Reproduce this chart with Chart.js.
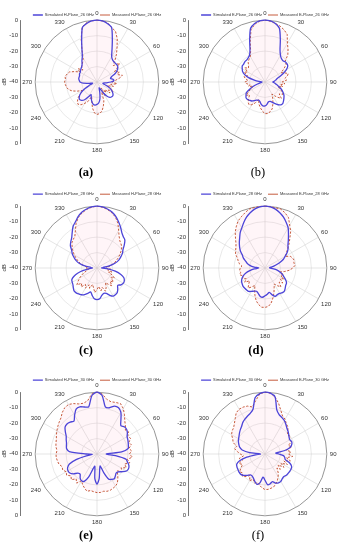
<!DOCTYPE html>
<html><head><meta charset="utf-8">
<script src="https://cdn.jsdelivr.net/npm/chart.js@4.4.1/dist/chart.umd.min.js"></script>
<style>
html,body{margin:0;padding:0;background:#fff;width:344px;height:550px;overflow:hidden;position:relative;}
canvas{position:absolute;}
.cap{position:absolute;font-family:"Liberation Serif","Times New Roman",serif;font-size:12.5px;transform:translate(-50%,-50%);color:#000;white-space:nowrap;}
</style></head><body>
<script>
// Angle categories (degrees, clockwise from top)
const angles = ['0','5','10','15','20','25','30','35','40','45','50','55',
 '60','65','70','75','80','85','90','95','100','105','110','115',
 '120','125','130','135','140','145','150','155','160','165','170','175',
 '180','185','190','195','200','205','210','215','220','225','230','235',
 '240','245','250','255','260','265','270','275','280','285','290','295',
 '300','305','310','315','320','325','330','335','340','345','350','355'];

// dB values, one per angle
const simA = [0,-0.3,-1.5,-3.5,-11,-17,-21,-22.5,-23,-23,-23,-23.5,
 -25,-27,-30,-31,-29.5,-29,-31,-34,-36,-36,-34,-31,
 -29,-27.5,-26.5,-26.5,-27,-29,-32,-35,-36,-33,-29,-26.5,
 -25.5,-25,-25.5,-27,-29,-31,-29,-26,-24.5,-24,-25,-27,
 -30,-34,-36,-37,-35,-31,-29,-28.5,-28,-28,-28,-27.5,
 -27.5,-27,-26.5,-26,-25,-23,-21,-17,-11,-3.5,-1.5,-0.3];
const measA = [0,-0.3,-1,-3.5,-5,-9,-14,-18,-22,-25,-21,-24,
 -27,-24,-26,-23,-25,-28,-30,-27,-31,-29,-33,-30,
 -28,-31,-29,-33,-31,-35,-30,-33,-27,-24,-21,-19.5,
 -19,-20,-23,-27,-30,-26,-24,-22,-21,-22,-24,-27,
 -29,-26,-23,-21,-20,-19.5,-19,-19.5,-19,-20,-21,-24,
 -27,-25,-28,-26,-25,-24,-22,-17,-10,-3,-1,-0.3];
const simB = [0,-0.3,-1.5,-4,-11,-17,-20,-21.5,-22,-21.5,-21.5,-22,
 -24,-27,-30,-32,-33,-34,-35,-34,-33,-31.5,-30,-28,
 -26.5,-25,-24,-23,-22,-22,-23,-24.5,-26,-27,-27,-25.5,
 -24.5,-24.5,-25.5,-27,-27.5,-27,-26,-25,-24.5,-24,-24,-25,
 -26,-29,-32,-35,-37,-38,-38,-36,-33,-29,-26,-24,
 -23,-22,-22,-21.5,-21.5,-21,-20,-17,-11,-4,-1.5,-0.3];
const measB = [0,-0.5,-1.5,-2.5,-4,-6,-11,-14,-17,-22,-22,-25,
 -28,-26,-24,-25,-27,-26,-29,-27,-30,-28,-31,-29,
 -27,-26,-28,-25,-27,-29,-31,-28,-25,-22,-20.5,-19.5,
 -19.5,-21,-23,-25,-28,-25,-23,-22,-23,-25,-27,-25,
 -28,-30,-32,-29,-30,-28,-27,-29,-27,-26,-28,-25,
 -27,-24,-26,-25,-23,-22,-21,-18,-12,-5,-2,-0.5];
const simC = [0,-0.3,-1.2,-2.5,-4.5,-7,-9.5,-12,-13.5,-14.5,-17,-19.5,
 -21,-23,-25,-28,-32,-36,-37,-33,-28,-24,-21.5,-20.5,
 -20.3,-21,-22.5,-21,-19.5,-19,-19,-20.5,-22.5,-23,-22,-20,
 -19.5,-20,-22,-24,-22.5,-21,-20,-19.5,-19,-19,-20,-21,
 -21.5,-22,-24,-27,-31,-35,-37,-36,-32,-28,-25.5,-23.5,
 -21.5,-20,-17.5,-16,-14.5,-12,-9,-7,-4.5,-2.5,-1.2,-0.3];
const measC = [0,-0.5,-1.5,-3,-5,-8,-12,-15,-17,-18,-19,-21,
 -23,-25,-27,-29,-31,-33,-34,-31,-33,-30,-32,-29,
 -27,-29,-26,-28,-25,-27,-29,-26,-24,-27,-25,-28,
 -26,-24,-27,-29,-26,-28,-25,-27,-24,-26,-23,-25,
 -27,-29,-31,-33,-34,-35,-33,-34,-31,-29,-27,-25,
 -23,-21,-19,-17,-16,-15,-12,-8,-5,-3,-1.5,-0.5];
const simD = [0,-0.3,-1.3,-3,-5,-7.5,-10,-13.5,-16.5,-19,-20.5,-22.5,
 -25,-27,-30,-33,-35,-37,-37,-35,-32,-30,-28,-26.5,
 -24.5,-23,-22.5,-21.5,-20.5,-20.5,-21,-21,-20.5,-22,-24,-23,
 -22,-21,-21.5,-23,-24,-23.5,-22.5,-21.5,-21.5,-21.5,-21.5,-22,
 -22.5,-23.5,-25,-27,-30,-33,-36,-33,-30,-28,-26.5,-24.5,
 -23,-20.5,-18.5,-16.5,-14.5,-12,-10,-7.5,-5,-3,-1.3,-0.3];
const measD = [0,0,-0.5,-0.5,-2,-4,-8,-11,-15,-18,-21,-23,
 -25,-22,-21,-20.5,-21,-20.5,-22,-24,-27,-30,-27,-29,
 -26,-28,-25,-27,-24,-26,-28,-26,-23,-20,-17,-15,
 -14.5,-14.5,-16,-18,-21,-24,-27,-25,-23,-25,-27,-24,
 -26,-24,-25,-23,-24,-23.5,-24,-25,-23,-22,-21,-19,
 -18,-17,-15.5,-13,-10,-7.5,-5,-3.5,-2,-0.5,-0.3,0];
const simE = [0,-2,-9,-9,-7,-7,-9,-13,-16,-15,-15,-16,
 -17.5,-18,-18.5,-19,-19.5,-24,-34,-28,-21,-19.5,-18,-17.5,
 -18,-20,-22,-22.5,-21.5,-20.5,-21,-22,-27,-32,-30,-24,
 -20.5,-24,-32,-30,-24,-20.5,-20,-21,-23,-22.5,-20,-18.5,
 -18.3,-19,-21,-26,-33,-37,-33,-22,-20,-19.5,-19,-18,
 -17,-15,-13,-12.5,-13,-14,-11,-8,-7.5,-8.5,-9,-2];
const measE = [0,-1,-4,-5,-4.5,-4,-6,-9,-12,-14,-16,-15,
 -17,-16,-18,-17,-19,-17.5,-19,-17,-20,-18,-21,-19,
 -22,-20,-23,-21,-19,-17,-16,-15.5,-15,-15,-15.5,-15,
 -15,-15.5,-16,-15,-16.5,-18,-20,-17,-19,-16.5,-18,-16,
 -17,-15.5,-16,-14.5,-14,-13.5,-13.5,-14,-13,-12.5,-12,-11,
 -10,-9,-8,-7,-5,-3.5,-3,-4,-5.5,-6,-5,-1];
const simF = [0,-0.5,-2.5,-10.5,-13,-14,-15,-16.5,-18,-19,-20,-21,
 -21.5,-21,-21.5,-23,-27,-33,-31,-28,-27,-26.5,-23,-21,
 -20.5,-20.5,-20.5,-20.5,-21,-20.5,-19.5,-19.3,-20,-21.5,-20.5,-20,
 -23,-25,-21,-19.7,-21,-22.5,-23.5,-23.5,-22,-20.5,-19.5,-19.5,
 -19.8,-20,-20.5,-23,-28,-34,-37,-30,-25,-23,-22,-21,
 -20.3,-19.5,-18.5,-17.5,-16.5,-15,-14,-13,-12,-10,-3,-0.8];
const measF = [0,-0.5,-2.5,-6,-10,-13,-14,-16,-17,-19,-21,-20,
 -22,-21,-24,-22,-26,-23,-25,-22,-26,-23,-27,-24,
 -28,-25,-29,-26,-28,-25,-23,-21,-19.5,-18,-17.5,-17,
 -17,-18,-19.5,-21,-20,-22,-20,-23,-21,-19.5,-21,-20,
 -22,-24,-22,-25,-23,-26,-24,-22,-20,-21,-18,-17,
 -15,-14,-13.5,-12,-10,-7.5,-6.5,-6.5,-7,-8.5,-5,-1];

const simNames  = ['Simulated H-Plane_26 GHz','Simulated E-Plane_26 GHz','Simulated H-Plane_28 GHz','Simulated E-Plane_28 GHz','Simulated H-Plane_30 GHz','Simulated E-Plane_30 GHz'];
const measNames = ['Measured H-Plane_26 GHz','Measured E-Plane_26 GHz','Measured H-Plane_28 GHz','Measured E-Plane_28 GHz','Measured H-Plane_30 GHz','Measured E-Plane_30 GHz'];
const captions  = ['(a)','(b)','(c)','(d)','(e)','(f)'];
const axisTicks = [-40,-30,-20,-10,0,10,20,30,40];

const simSeries  = [simA, simB, simC, simD, simE, simF];
const measSeries = [measA, measB, measC, measD, measE, measF];

// layout of the six panels
const panelX   = [0, 168, 0, 168, 0, 168];
const panelCY  = [82, 82, 268, 268, 454, 454];
const legendYs = [15, 15, 194, 194, 379, 379];
const capPos   = [[86,172],[258,172],[86,350],[256,350],[86,535],[258,535]];
const capBold  = [true, false, true, true, true, false];

const SIM = '#4c44d8', MEAS = '#c04a28';
const FONT = '"Liberation Sans", Arial, sans-serif';
const R = 61.8;

function datasets(i, withData) {
  return [
    {label: simNames[i], data: withData ? simSeries[i] : [], borderColor: SIM, backgroundColor: SIM,
     borderWidth: 1.3, pointRadius: 0, tension: 0.25, fill: false},
    {label: measNames[i], data: withData ? measSeries[i] : [], borderColor: MEAS,
     backgroundColor: 'rgba(255,120,150,0.07)', borderWidth: 0.9, borderDash: [2.2, 1.6],
     pointRadius: 0, tension: 0, fill: 'start'}
  ];
}

function addCanvas(left, top, w, h) {
  const c = document.createElement('canvas');
  c.width = w; c.height = h;
  c.style.left = left + 'px'; c.style.top = top + 'px';
  c.style.width = w + 'px'; c.style.height = h + 'px';
  document.body.appendChild(c);
  return c;
}

for (let i = 0; i < 6; i++) {
  const x0 = panelX[i], cy = panelCY[i];
  // polar chart
  const rc = addCanvas(x0 + 9, cy - 72, 176, 145);
  new Chart(rc, {
    type: 'radar',
    data: {labels: angles, datasets: datasets(i, true)},
    options: {
      responsive: false, animation: false, events: [],
      layout: {padding: 0},
      plugins: {legend: {display: false}, tooltip: {enabled: false}},
      scales: {r: {
        min: -40, max: 0,
        ticks: {display: false, stepSize: 10},
        grid: {circular: true, color: c => c.index === 4 ? '#8a8a8a' : '#dadada', lineWidth: c => c.index === 4 ? 0.9 : 0.6},
        angleLines: {display: true, color: '#d4d4d4', lineWidth: c => (c.index % 6 === 0 ? 0.6 : 0)},
        pointLabels: {display: true, padding: 3, color: '#333', font: {size: 6, family: FONT},
          callback: (l, idx) => (idx % 6 === 0 ? l : '')}
      }}
    }
  });

  // left dB axis + legend
  const axisTop = cy - R, axisBottom = cy + R;
  const legendH = Math.min(20, axisTop - (legendYs[i] - 8));
  const legendTop = axisTop - legendH;
  const cTop = Math.floor(legendTop);
  const padTop = legendTop - cTop;
  const H = Math.ceil(axisBottom + 5 - cTop);
  const padBottom = cTop + H - axisBottom;
  const ac = addCanvas(x0, cTop, 194, H);
  new Chart(ac, {
    type: 'line',
    data: {labels: [], datasets: datasets(i, false)},
    options: {
      responsive: false, animation: false, events: [],
      layout: {padding: {top: padTop, bottom: padBottom, left: 0, right: 0}},
      plugins: {
        tooltip: {enabled: false},
        legend: {display: true, position: 'top', align: 'center', maxHeight: legendH,
          labels: {font: {size: 4, family: FONT}, color: '#333', padding: 6,
            usePointStyle: true, pointStyle: 'line', pointStyleWidth: 10, boxHeight: 4}}
      },
      scales: {
        x: {display: false},
        y: {position: 'left', min: -40, max: 40,
          afterBuildTicks: s => { s.ticks = axisTicks.map(v => ({value: v})); },
          afterFit: s => { s.width = 20; },
          ticks: {padding: 2, color: '#333', font: {size: 6, family: FONT},
            callback: v => String(Math.abs(v) - 40)},
          grid: {drawOnChartArea: false, drawTicks: false},
          border: {display: true, color: '#555', width: 0.8},
          title: {display: true, text: 'dB', color: '#333', font: {size: 6, family: FONT}, padding: {top: 1, bottom: 0}}
        }
      }
    }
  });

  const d = document.createElement('div');
  d.className = 'cap';
  d.textContent = captions[i];
  d.style.left = capPos[i][0] + 'px';
  d.style.top = capPos[i][1] + 'px';
  d.style.fontWeight = capBold[i] ? 'bold' : 'normal';
  document.body.appendChild(d);
}
</script>
</body></html>
